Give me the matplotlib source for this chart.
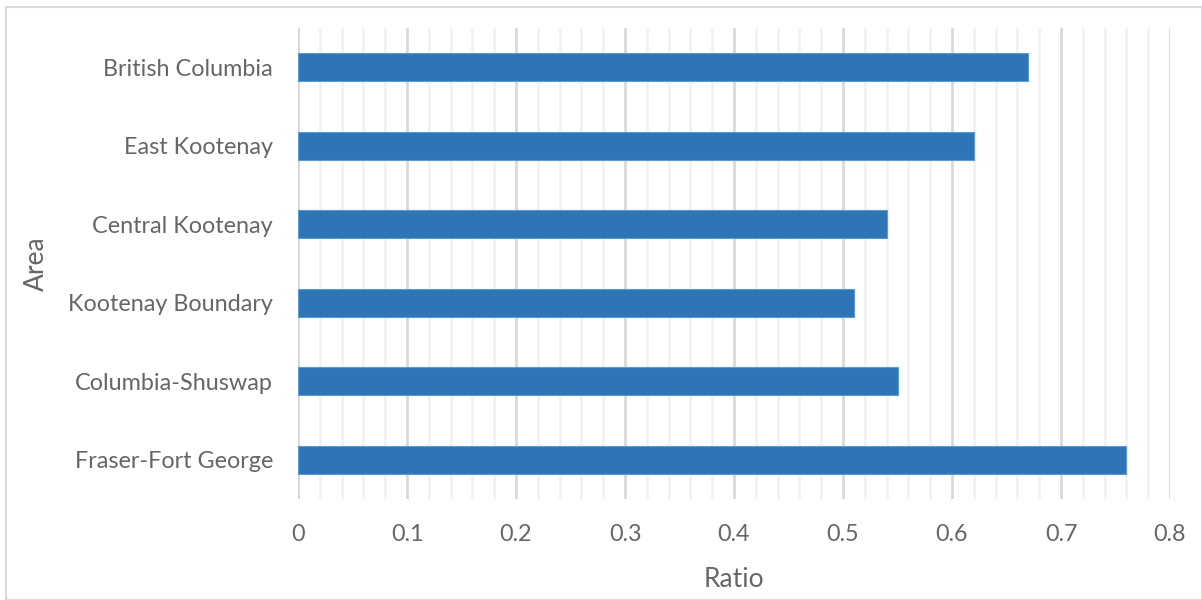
import matplotlib
matplotlib.use("Agg")
import matplotlib.pyplot as plt
from matplotlib.ticker import MultipleLocator
from matplotlib.patches import Rectangle

categories = ["British Columbia", "East Kootenay", "Central Kootenay",
              "Kootenay Boundary", "Columbia-Shuswap", "Fraser-Fort George"]
values = [0.67, 0.62, 0.54, 0.51, 0.55, 0.76]
xticks = [0, 0.1, 0.2, 0.3, 0.4, 0.5, 0.6, 0.7, 0.8]
xlabels = ["0", "0.1", "0.2", "0.3", "0.4", "0.5", "0.6", "0.7", "0.8"]

plt.rcParams['font.family'] = ['Lato', 'DejaVu Sans']
txt = '#666666'

fig = plt.figure(figsize=(12.02, 6.0), dpi=100)
ax = fig.add_axes([298/1202, 1 - 499/600, (1170-298)/1202, (499-28)/600])

pos = list(range(len(categories)))[::-1]
ax.barh(pos, values, height=0.36, color='#2E75B6', edgecolor='#5B9BD5', linewidth=0.8, zorder=3)

ax.set_xlim(0, 0.8)
ax.set_ylim(-0.5, 5.5)
ax.set_xticks(xticks)
ax.set_xticklabels(xlabels)
ax.xaxis.set_minor_locator(MultipleLocator(0.02))
ax.set_yticks(pos)
ax.set_yticklabels(categories)

ax.grid(axis='x', which='major', color='#D9D9D9', linewidth=2.0, zorder=0)
ax.grid(axis='x', which='minor', color='#F2F2F2', linewidth=2.0, zorder=0)
ax.axvline(0, color='#D9D9D9', linewidth=2.0, zorder=1)
for s in ax.spines.values():
    s.set_visible(False)
ax.tick_params(axis='both', which='both', length=0, colors=txt, labelsize=16.8)
ax.tick_params(axis='x', pad=18)
ax.tick_params(axis='y', pad=18)

ax.set_xlabel('Ratio', fontsize=19, color=txt, labelpad=16)
ax.set_ylabel('Area', fontsize=19, color=txt, labelpad=14)

fig.patches.append(Rectangle((6/1202, 0), 1 - 6/1202, 1 - 7/600, transform=fig.transFigure,
                             fill=False, edgecolor='#D9D9D9', linewidth=1.5))

fig.savefig('out.png', dpi=100)
